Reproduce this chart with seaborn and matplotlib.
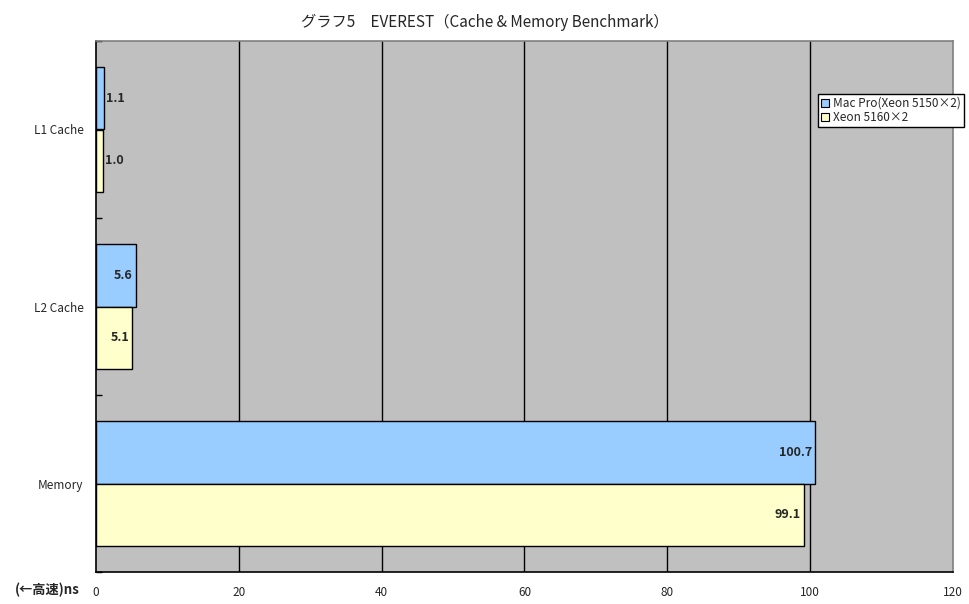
import matplotlib
matplotlib.use("Agg")
import matplotlib.pyplot as plt
import seaborn as sns
import pandas as pd
from matplotlib.ticker import FixedLocator
from matplotlib.patches import Patch

categories = ["L1 Cache", "L2 Cache", "Memory"]
series_names = ["Mac Pro(Xeon 5150×2)", "Xeon 5160×2"]
mac_pro = [1.1, 5.6, 100.7]
xeon = [1.0, 5.1, 99.1]
x_ticks = [0, 20, 40, 60, 80, 100, 120]
title = "グラフ5　EVEREST（Cache & Memory Benchmark）"
unit_label = "(←高速)ns"

df = pd.DataFrame({
    "category": categories * 2,
    "series": [series_names[0]] * 3 + [series_names[1]] * 3,
    "value": mac_pro + xeon,
})

sns.set_theme(style="white")
plt.rcParams['font.family'] = ['Noto Sans CJK JP', 'DejaVu Sans']

fig = plt.figure(figsize=(9.7, 6.04), dpi=100)
ax = fig.add_axes([96/970, 1 - 572/604, (953-96)/970, (572-41)/604])
ax.set_facecolor("#C0C0C0")

palette = {series_names[0]: "#99CCFF", series_names[1]: "#FFFFCC"}
sns.barplot(data=df, y="category", x="value", hue="series", order=categories,
            hue_order=series_names, palette=palette, orient="h", width=0.71,
            edgecolor="black", linewidth=1.0, saturation=1, ax=ax, legend=False,
            zorder=3)

ax.set_xlim(0, 120)
ax.set_ylim(2.5, -0.5)
ax.xaxis.set_major_locator(FixedLocator(x_ticks))
ax.set_xticklabels([str(t) for t in x_ticks], fontsize=8.5)
ax.tick_params(axis="x", length=0, pad=10)
for v in x_ticks[1:-1]:
    ax.axvline(v, color="black", linewidth=1, zorder=1)

ax.set_yticks(range(len(categories)))
ax.set_yticklabels(categories, fontsize=8.5)
ax.tick_params(axis="y", which="major", length=0, pad=9)
ax.yaxis.set_minor_locator(FixedLocator([-0.5, 0.5, 1.5, 2.5]))
ax.tick_params(axis="y", which="minor", length=4, width=1, direction="in",
               color="black", left=True)
ax.set_xlabel("")
ax.set_ylabel("")

for side in ["left", "bottom"]:
    ax.spines[side].set_color("black")
    ax.spines[side].set_linewidth(1.2)
for side in ["top", "right"]:
    ax.spines[side].set_color("#808080")
    ax.spines[side].set_linewidth(1.2)
    ax.spines[side].set_visible(True)

for container in ax.containers:
    for bar in container:
        w = bar.get_width()
        yc = bar.get_y() + bar.get_height() / 2
        if w < 3:
            ax.text(w + 0.25, yc, f"{w:.1f}", ha="left", va="center",
                    fontsize=9, fontweight="bold", zorder=5)
        else:
            ax.text(w - 0.45, yc, f"{w:.1f}", ha="right", va="center",
                    fontsize=9, fontweight="bold", zorder=5)

fig.text(0.5, 1 - 22/604, title, ha="center", va="center", fontsize=11)
fig.text(15/970, 1 - 590/604, unit_label, ha="left", va="center",
         fontsize=9.5, fontweight="bold")

handles = [Patch(facecolor=palette[s], edgecolor="black", linewidth=0.8) for s in series_names]
leg = fig.legend(handles, series_names, loc="upper left",
                 bbox_to_anchor=(818/970, 1 - 94/604), fontsize=8.5,
                 frameon=True, fancybox=False, framealpha=1,
                 handlelength=0.7, handleheight=0.7,
                 handletextpad=0.3, borderpad=0.25, labelspacing=0.1,
                 borderaxespad=0)
leg.get_frame().set_edgecolor("black")
leg.get_frame().set_linewidth(1)
leg.get_frame().set_facecolor("white")

fig.savefig("out.png", dpi=100)
